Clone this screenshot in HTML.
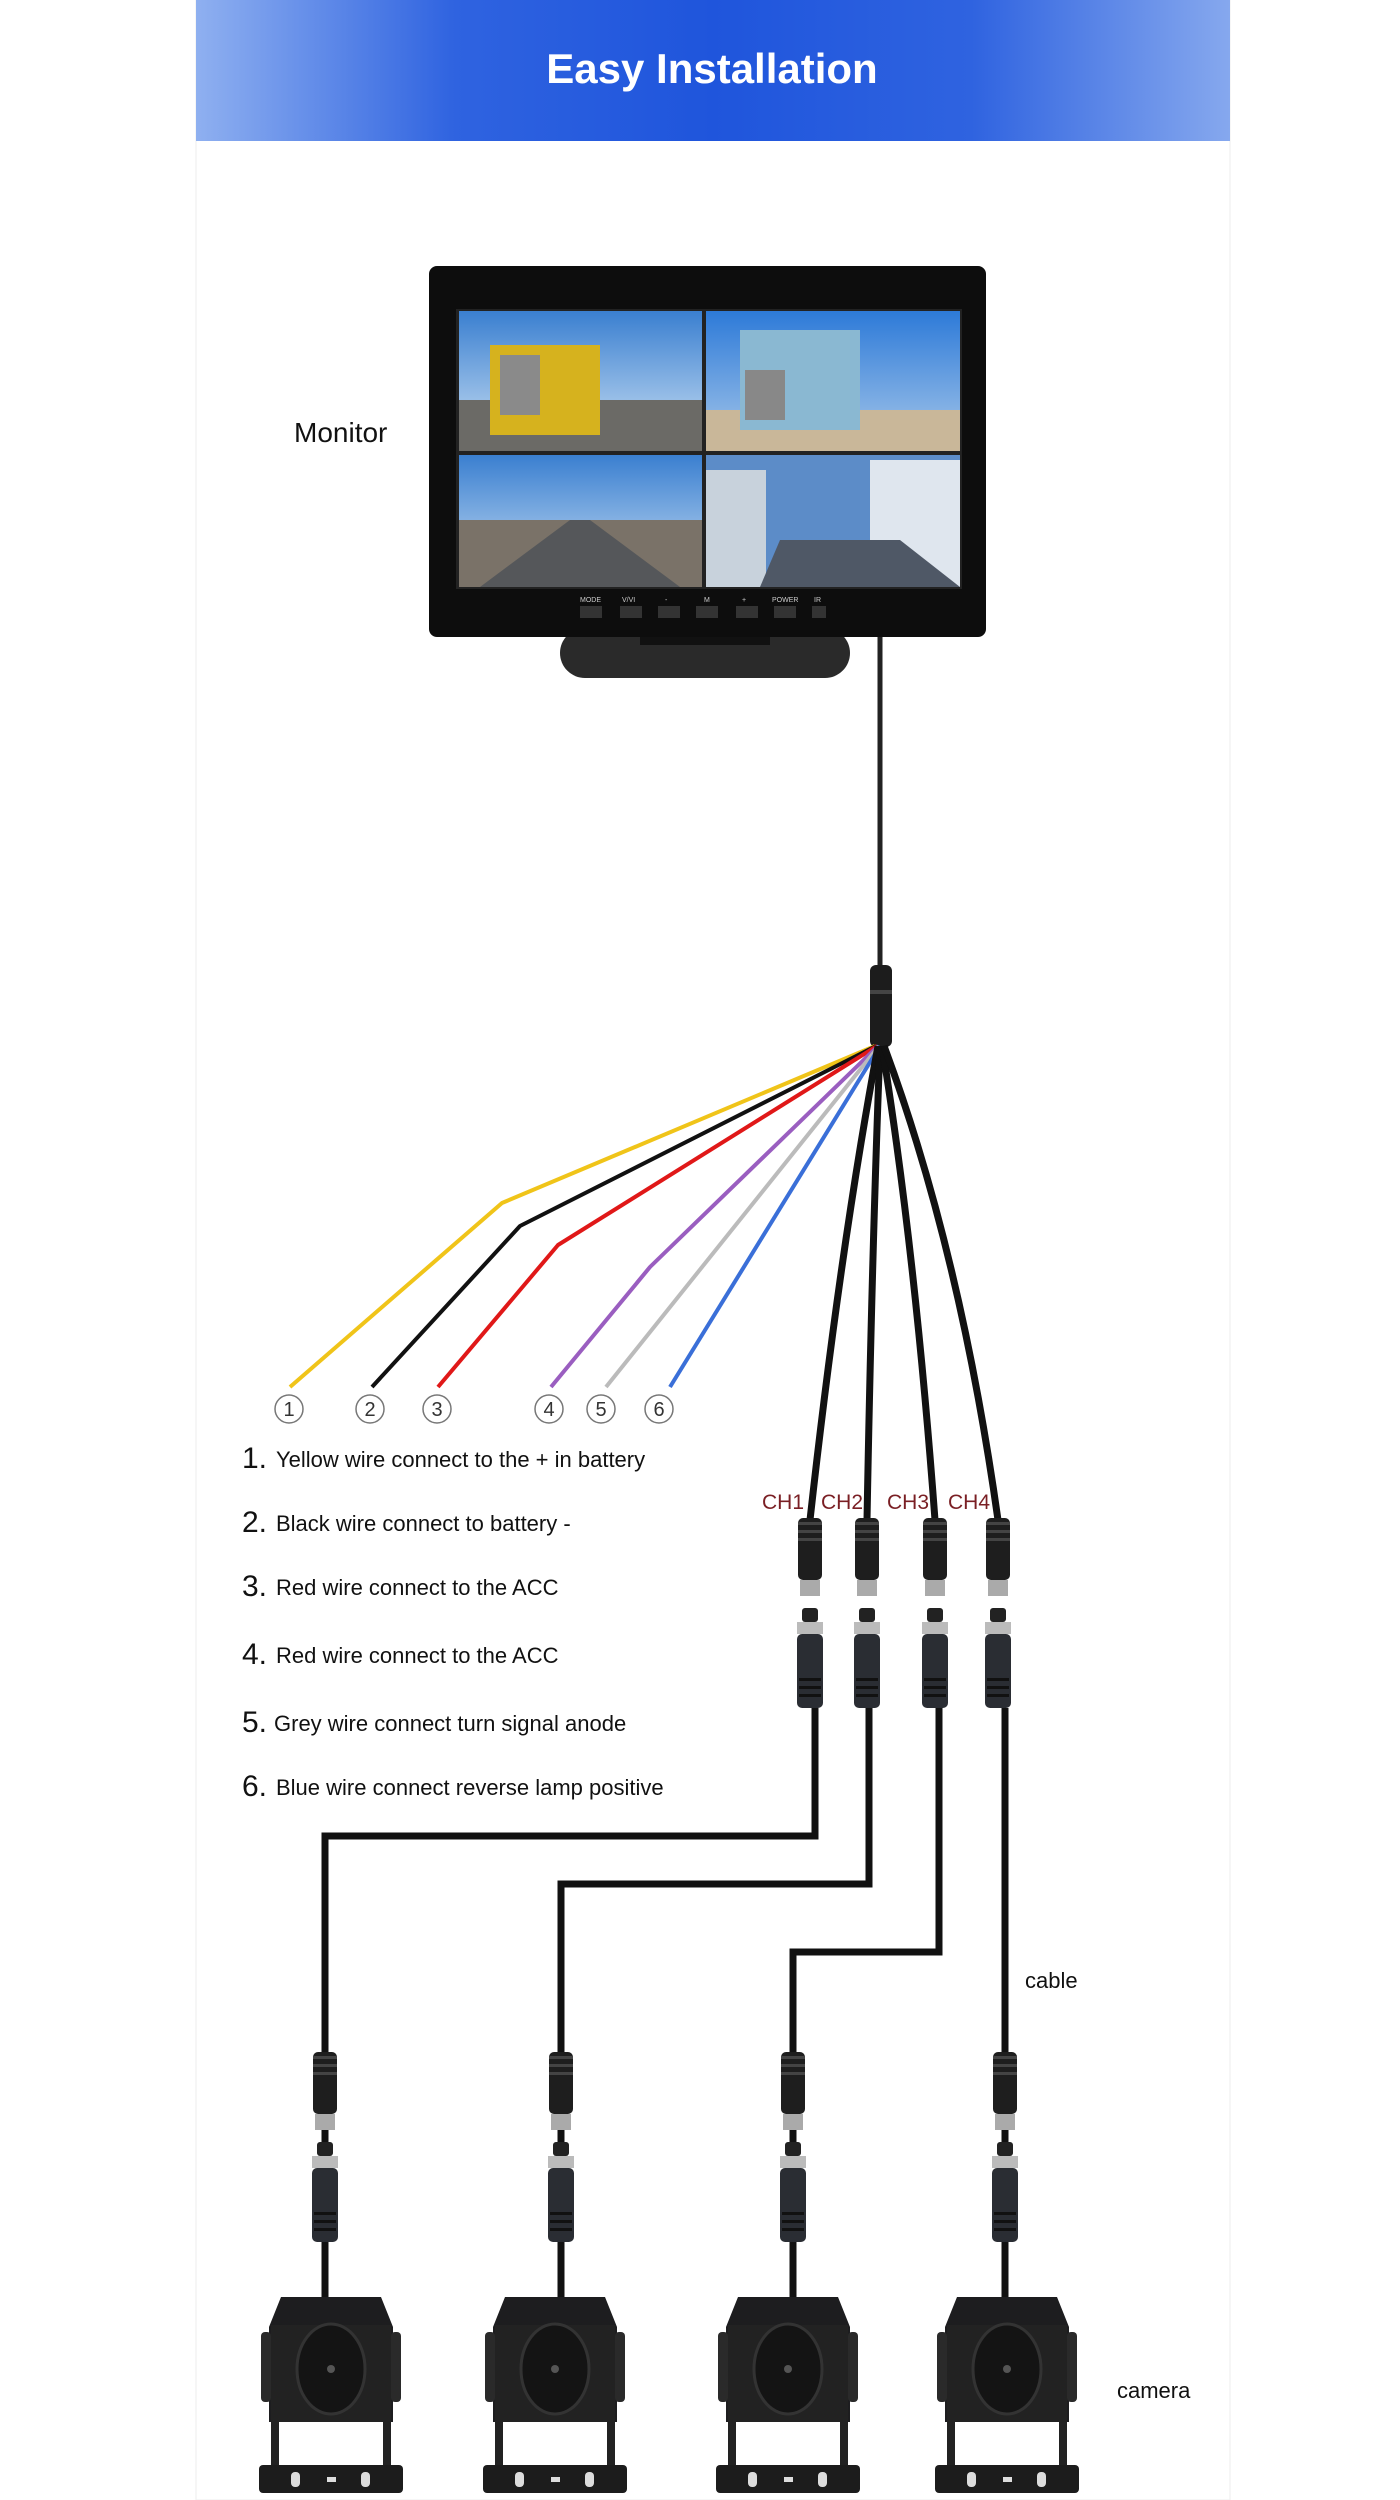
<!DOCTYPE html>
<html><head><meta charset="utf-8"><style>
html,body{margin:0;padding:0;background:#fff;width:1400px;height:2500px;overflow:hidden}
svg{display:block}
text{font-family:"Liberation Sans",sans-serif}
</style></head><body>
<svg width="1400" height="2500" viewBox="0 0 1400 2500" xmlns="http://www.w3.org/2000/svg">
<defs>
<linearGradient id="hdr" x1="0" y1="0" x2="1" y2="0">
<stop offset="0" stop-color="#8fb0f0"/><stop offset="0.25" stop-color="#2f63e0"/><stop offset="0.5" stop-color="#1f55dc"/><stop offset="0.75" stop-color="#2f63e0"/><stop offset="1" stop-color="#86a8ee"/>
</linearGradient>
<linearGradient id="sky" x1="0" y1="0" x2="0" y2="1"><stop offset="0" stop-color="#3a7fd0"/><stop offset="1" stop-color="#cfe3f5"/></linearGradient>
<linearGradient id="sky2" x1="0" y1="0" x2="0" y2="1"><stop offset="0" stop-color="#2d7ad8"/><stop offset="1" stop-color="#a8c8ea"/></linearGradient>
<g id="conn">
<rect x="-12" y="0" width="24" height="62" rx="5" fill="#1e1e1e"/>
<rect x="-12" y="4" width="24" height="3" fill="#444"/><rect x="-12" y="12" width="24" height="3" fill="#444"/><rect x="-12" y="20" width="24" height="3" fill="#444"/>
<rect x="-10" y="62" width="20" height="16" fill="#aaa"/>
<rect x="-8" y="90" width="16" height="14" rx="3" fill="#222"/>
<rect x="-13" y="104" width="26" height="12" fill="#bbb"/>
<rect x="-13" y="116" width="26" height="74" rx="5" fill="#2a2d33"/>
<rect x="-11" y="160" width="22" height="3" fill="#111"/><rect x="-11" y="168" width="22" height="3" fill="#111"/><rect x="-11" y="176" width="22" height="3" fill="#111"/>
</g>
<g id="cam">
<path d="M-50,0 L50,0 L62,30 L62,125 L-62,125 L-62,30 Z" fill="#1d1d1f"/>
<rect x="-70" y="35" width="10" height="70" rx="4" fill="#2a2a2a"/><rect x="60" y="35" width="10" height="70" rx="4" fill="#2a2a2a"/>
<rect x="-60" y="28" width="120" height="97" fill="#222"/>
<ellipse cx="0" cy="72" rx="34" ry="45" fill="#141414" stroke="#333" stroke-width="3"/>
<circle cx="0" cy="72" r="4" fill="#555"/>
<path d="M-60,125 L-60,190 L60,190 L60,125 L52,125 L52,170 L-52,170 L-52,125 Z" fill="#222"/>
<rect x="-72" y="168" width="144" height="28" rx="4" fill="#1c1c1c"/>
<rect x="-40" y="175" width="9" height="15" rx="4" fill="#ddd"/><rect x="-4" y="180" width="9" height="5" fill="#ddd"/><rect x="30" y="175" width="9" height="15" rx="4" fill="#ddd"/>
</g>
</defs>
<rect x="196" y="0" width="1034" height="2500" fill="#fff" stroke="#eee" stroke-width="1"/>
<rect x="196" y="0" width="1034" height="141" fill="url(#hdr)"/>
<text x="712" y="83" text-anchor="middle" font-size="42" font-weight="bold" fill="#fff">Easy Installation</text>

<!-- monitor -->
<rect x="560" y="628" width="290" height="50" rx="25" fill="#2a2a2a"/>
<rect x="640" y="620" width="130" height="25" fill="#111"/>
<rect x="429" y="266" width="557" height="371" rx="8" fill="#0d0d0d"/>
<rect x="456" y="309" width="506" height="280" fill="#222"/>
<rect x="459" y="311" width="243" height="140" fill="url(#sky)"/>
<rect x="459" y="400" width="243" height="51" fill="#6b6a66"/>
<rect x="490" y="345" width="110" height="90" fill="#d6b21e"/>
<rect x="500" y="355" width="40" height="60" fill="#8a8a8a"/>
<rect x="706" y="311" width="254" height="140" fill="url(#sky2)"/>
<rect x="706" y="410" width="254" height="41" fill="#c9b799"/>
<rect x="740" y="330" width="120" height="100" fill="#8ab8d2"/>
<rect x="745" y="370" width="40" height="50" fill="#888"/>
<rect x="459" y="455" width="243" height="132" fill="url(#sky)"/>
<rect x="459" y="520" width="243" height="67" fill="#7a7268"/>
<path d="M570,520 L590,520 L680,587 L480,587 Z" fill="#55575a"/>
<rect x="706" y="455" width="254" height="132" fill="#5c8cc8"/>
<rect x="706" y="470" width="60" height="117" fill="#c8d2dc"/>
<rect x="870" y="460" width="90" height="127" fill="#dfe6ee"/>
<path d="M780,540 L900,540 L960,587 L760,587 Z" fill="#4f5866"/>
<g fill="#333"><rect x="580" y="606" width="22" height="12"/><rect x="620" y="606" width="22" height="12"/><rect x="658" y="606" width="22" height="12"/><rect x="696" y="606" width="22" height="12"/><rect x="736" y="606" width="22" height="12"/><rect x="774" y="606" width="22" height="12"/><rect x="812" y="606" width="14" height="12"/></g>
<g fill="#ccc" font-size="7"><text x="580" y="602">MODE</text><text x="622" y="602">V/VI</text><text x="665" y="602">-</text><text x="704" y="602">M</text><text x="742" y="602">+</text><text x="772" y="602">POWER</text><text x="814" y="602">IR</text></g>
<text x="294" y="442" font-size="28" fill="#111">Monitor</text>

<!-- main cable -->
<path d="M880,637 L880,975" stroke="#222" stroke-width="5" fill="none"/>
<rect x="870" y="965" width="22" height="82" rx="6" fill="#1c1c1c"/>
<rect x="870" y="990" width="22" height="4" fill="#444"/>

<!-- colored wires -->
<g fill="none" stroke-width="4" stroke-linejoin="round">
<path d="M875,1046 L502,1203 L290,1387" stroke="#f0c419"/>
<path d="M876,1046 L520,1226 L372,1387" stroke="#111"/>
<path d="M877,1046 L558,1245 L438,1387" stroke="#e01818"/>
<path d="M878,1046 L650,1267 L551,1387" stroke="#9a5ec0"/>
<path d="M879,1046 L606,1387" stroke="#bbb"/>
<path d="M880,1046 L670,1387" stroke="#3a6fd8"/>
</g>
<g fill="#fff" stroke="#777" stroke-width="1.5">
<circle cx="289" cy="1409" r="14"/><circle cx="370" cy="1409" r="14"/><circle cx="437" cy="1409" r="14"/><circle cx="549" cy="1409" r="14"/><circle cx="601" cy="1409" r="14"/><circle cx="659" cy="1409" r="14"/>
</g>
<g font-size="20" fill="#333" text-anchor="middle">
<text x="289" y="1416">1</text><text x="370" y="1416">2</text><text x="437" y="1416">3</text><text x="549" y="1416">4</text><text x="601" y="1416">5</text><text x="659" y="1416">6</text>
</g>
<g fill="#111">
<text x="242" y="1468" font-size="30">1.</text><text x="276" y="1467" font-size="22">Yellow wire connect to the + in battery</text>
<text x="242" y="1532" font-size="30">2.</text><text x="276" y="1531" font-size="22">Black wire connect to battery -</text>
<text x="242" y="1596" font-size="30">3.</text><text x="276" y="1595" font-size="22">Red wire connect to the ACC</text>
<text x="242" y="1664" font-size="30">4.</text><text x="276" y="1663" font-size="22">Red wire connect to the ACC</text>
<text x="242" y="1732" font-size="30">5.</text><text x="274" y="1731" font-size="22">Grey wire connect turn signal anode</text>
<text x="242" y="1796" font-size="30">6.</text><text x="276" y="1795" font-size="22">Blue wire connect reverse lamp positive</text>
</g>

<!-- black channel cables -->
<g fill="none" stroke="#111" stroke-width="7">
<path d="M878,1046 Q840,1250 810,1520"/>
<path d="M880,1046 Q872,1250 867,1520"/>
<path d="M882,1046 Q915,1250 935,1520"/>
<path d="M884,1046 Q960,1250 998,1520"/>
</g>
<g font-size="21" fill="#7a1f24">
<text x="762" y="1509">CH1</text><text x="821" y="1509">CH2</text><text x="887" y="1509">CH3</text><text x="948" y="1509">CH4</text>
</g>
<use href="#conn" x="810" y="1518"/><use href="#conn" x="867" y="1518"/><use href="#conn" x="935" y="1518"/><use href="#conn" x="998" y="1518"/>

<g fill="none" stroke="#111" stroke-width="7" stroke-linejoin="miter">
<path d="M815,1708 L815,1836 L325,1836 L325,2300"/>
<path d="M869,1708 L869,1884 L561,1884 L561,2300"/>
<path d="M939,1708 L939,1952 L793,1952 L793,2300"/>
<path d="M1005,1708 L1005,2300"/>
</g>
<g fill="none" stroke="#fff" stroke-width="2.5">
<path d="M808,1708 L808,1829 L318,1829"/>
<path d="M862,1708 L862,1877 L554,1877"/>
<path d="M932,1708 L932,1945 L786,1945"/>
</g>
<use href="#conn" x="325" y="2052"/><use href="#conn" x="561" y="2052"/><use href="#conn" x="793" y="2052"/><use href="#conn" x="1005" y="2052"/>
<text x="1025" y="1988" font-size="22" fill="#111">cable</text>
<text x="1117" y="2398" font-size="22" fill="#111">camera</text>
<use href="#cam" x="331" y="2297"/><use href="#cam" x="555" y="2297"/><use href="#cam" x="788" y="2297"/><use href="#cam" x="1007" y="2297"/>
</svg>
</body></html>
